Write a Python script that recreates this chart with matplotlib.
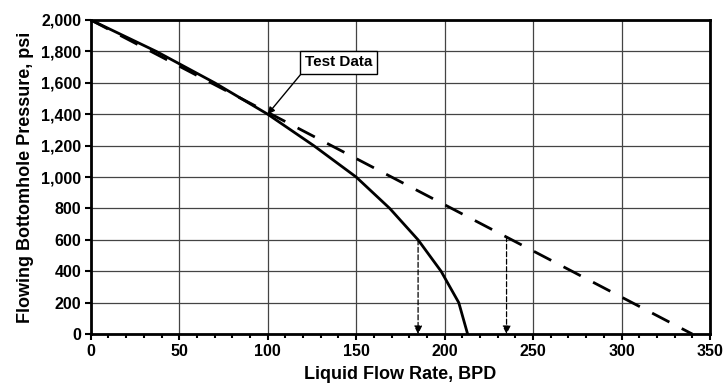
import matplotlib.pyplot as plt
from matplotlib.ticker import MultipleLocator, FuncFormatter

plt.rcParams['font.family'] = ['Liberation Sans', 'DejaVu Sans']
plt.rcParams['font.weight'] = 'bold'

# IPR curve
pressure = [2000, 1800, 1600, 1400, 1200, 1000, 800, 600, 400, 200, 0]
rate_vogel = [0, 37, 70, 100, 126, 150, 169, 185, 198, 208, 213]

# straight-line PI
rate_line = [0, 340]
pressure_line = [2000, 0]

# test point and the two read-offs at 600 psi
test_rate, test_p = 100, 1400
drop_rates = [185, 235]
drop_press = [600, 620]

fig = plt.figure(figsize=(7.26, 3.84), dpi=100)
ax = fig.add_axes([0.125, 0.13, 0.853, 0.818])

ax.plot(rate_vogel, pressure, color='black', lw=2, zorder=3)
ax.plot(rate_line, pressure_line, color='black', lw=2, dashes=(7, 5), zorder=3)

for r, p in zip(drop_rates, drop_press):
    ax.annotate('', xy=(r, 0), xytext=(r, p),
                arrowprops=dict(arrowstyle='-|>', color='black', lw=0.9,
                                linestyle=(0, (4, 2)), mutation_scale=12,
                                shrinkA=0, shrinkB=0))

ax.annotate('Test Data', xy=(test_rate, test_p), xytext=(121, 1730),
            fontsize=11, fontweight='bold', va='center', ha='left',
            bbox=dict(boxstyle='square,pad=0.3', fc='white', ec='black', lw=1),
            arrowprops=dict(arrowstyle='-|>', color='black', lw=1,
                            mutation_scale=10, shrinkA=0, shrinkB=0,
                            relpos=(0.0, 0.0)))

ax.set_xlim(0, 350)
ax.set_ylim(0, 2000)
ax.xaxis.set_major_locator(MultipleLocator(50))
ax.xaxis.set_minor_locator(MultipleLocator(10))
ax.yaxis.set_major_locator(MultipleLocator(200))
ax.yaxis.set_major_formatter(FuncFormatter(lambda v, _: f'{int(v):,}'))

ax.grid(True, which='major', color='#444444', lw=0.9)
ax.set_axisbelow(True)
for s in ax.spines.values():
    s.set_linewidth(2)
ax.tick_params(which='major', direction='out', length=4, width=1.5, labelsize=11.5, pad=3)
ax.tick_params(which='minor', direction='out', length=3, width=1.5)
ax.tick_params(axis='y', which='minor', left=False)

ax.set_xlabel('Liquid Flow Rate, BPD', fontsize=13, fontweight='bold', labelpad=5)
ax.set_ylabel('Flowing Bottomhole Pressure, psi', fontsize=13, fontweight='bold', labelpad=5)

fig.savefig('out.png', dpi=100)
